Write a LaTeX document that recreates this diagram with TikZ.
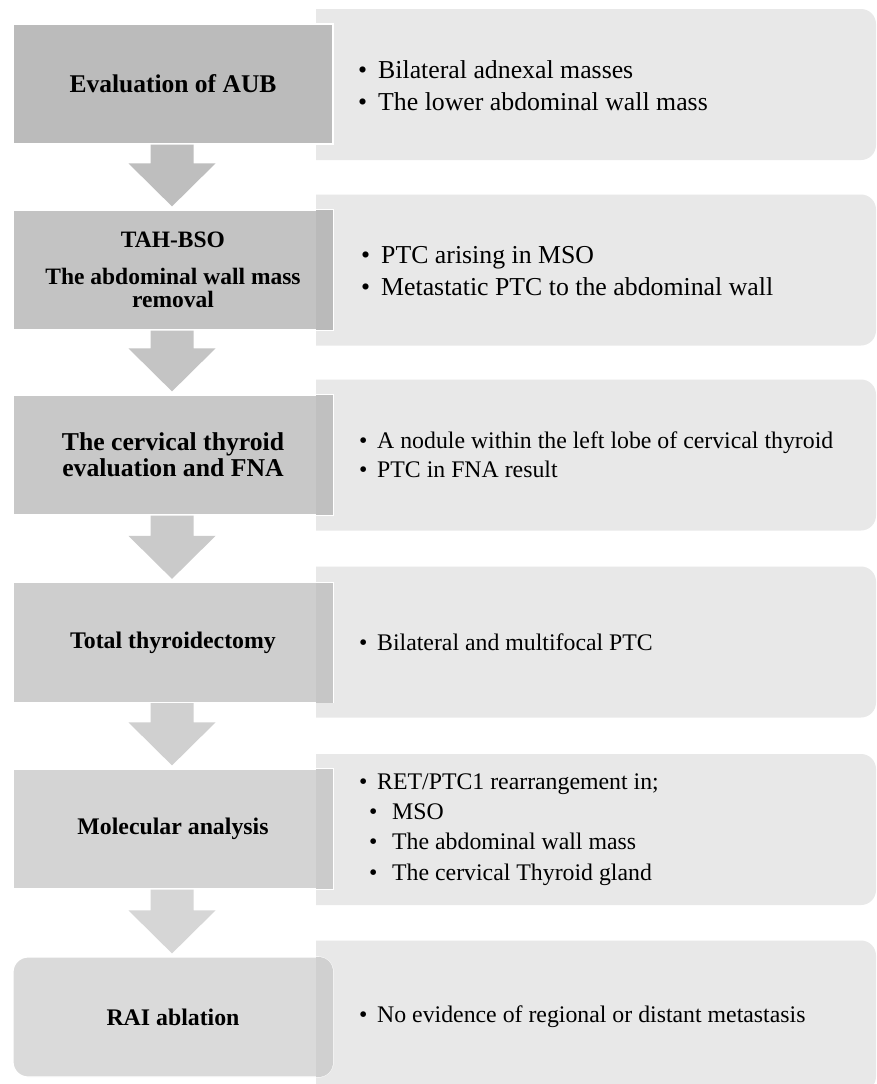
\documentclass[tikz,border=0pt]{standalone}
\usepackage{fontspec}
\setmainfont{Liberation Serif}
\usetikzlibrary{calc}
\definecolor{rf}{HTML}{E8E8E8}
\definecolor{cA}{HTML}{BBBBBB}
\definecolor{cB}{HTML}{C3C3C3}
\definecolor{cC}{HTML}{C8C8C8}
\definecolor{cD}{HTML}{CECECE}
\definecolor{cE}{HTML}{D4D4D4}
\definecolor{cF}{HTML}{DADADA}
\definecolor{sB}{HTML}{BABABA}
\definecolor{sC}{HTML}{C0C0C0}
\definecolor{sD}{HTML}{C6C6C6}
\definecolor{sE}{HTML}{CBCBCB}
\definecolor{sF}{HTML}{D0D0D0}
\definecolor{aA}{HTML}{BEBEBE}
\definecolor{aB}{HTML}{C4C4C4}
\definecolor{aC}{HTML}{CACACA}
\definecolor{aD}{HTML}{D0D0D0}
\definecolor{aE}{HTML}{D6D6D6}
\newcommand\bl[1]{\makebox[#1pt][l]{•}}
\newcommand\flowarrow[3]{%
  \fill[#3] ($(#1.south)+(-22.5,0)$) -- ($(#1.south)+(20.5,0)$)
    -- ($(#2.north)+(20.5,-46)$) -- ($(#2.north)+(42.5,-46)$)
    -- ($(#2.north)+(-1,-3)$) -- ($(#2.north)+(-44.5,-46)$)
    -- ($(#2.north)+(-22.5,-46)$) -- cycle;}
\newcommand\rightpanel[1]{%
  \begin{scope}
    \clip (#1.south west) rectangle (#1.north east);
    \fill[rf, rounded corners=15pt] ($(#1.south west)+(-40,0)$) rectangle (#1.north east);
  \end{scope}}
\tikzset{
  leftbox/.style={minimum width=320pt, minimum height=120pt, draw=white,
    line width=1.2pt, inner sep=0pt, align=center, text=black},
  rightbox/.style={minimum width=560pt, minimum height=151pt,
    inner sep=0pt, outer sep=0pt},
  rtext/.style={anchor=west, align=left, inner sep=0pt, text=black},
  bigr/.style={font=\fontsize{25.8}{31.5}\selectfont},
  smallr/.style={font=\fontsize{23.8}{29.5}\selectfont}
}
\begin{document}
\begin{tikzpicture}[x=1pt,y=-1pt]
\useasboundingbox (0,0) rectangle (877,1084);
\clip (0,0) rectangle (877,1084);
\fill[white] (0,0) rectangle (877,1084);

% right boxes
\node[rightbox] (b1) at (596,84.5) {};
\node[rightbox] (b2) at (596,270) {};
\node[rightbox] (b3) at (596,455) {};
\node[rightbox] (b4) at (596,642) {};
\node[rightbox] (b5) at (596,829.5) {};
\node[rightbox] (b6) at (596,1016) {};
\rightpanel{b1}
\rightpanel{b2}
\rightpanel{b3}
\rightpanel{b4}
\rightpanel{b5}
\rightpanel{b6}

% left boxes
\node[leftbox, fill=cA, font=\bfseries\fontsize{25.5}{30}\selectfont] (a1) at (173,84) {Evaluation of AUB};
\node[leftbox, fill=cB, font=\bfseries\fontsize{23.5}{23}\selectfont] (a2) at (173,270) {TAH-BSO\\[14pt]The abdominal wall mass\\removal};
\node[leftbox, fill=cC, font=\bfseries\fontsize{25.7}{26}\selectfont] (a3) at (173,455) {The cervical thyroid\\evaluation and FNA};
\node[leftbox, fill=cD, font=\bfseries\fontsize{23.8}{28}\selectfont] (a4) at (173,642.5) {Total thyroidectomy};
\node[leftbox, fill=cE, font=\bfseries\fontsize{23.8}{28}\selectfont] (a5) at (173,829) {Molecular analysis};
\node[leftbox, fill=cF, rounded corners=15pt, font=\bfseries\fontsize{23.8}{28}\selectfont] (a6) at (173,1017) {RAI ablation};

% overlap strips
\fill[sB] ($(b2.west |- a2.north)+(0,0.6)$) rectangle ($(a2.south east)+(-0.6,-0.6)$);
\fill[sC] ($(b3.west |- a3.north)+(0,0.6)$) rectangle ($(a3.south east)+(-0.6,-0.6)$);
\fill[sD] ($(b4.west |- a4.north)+(0,0.6)$) rectangle ($(a4.south east)+(-0.6,-0.6)$);
\fill[sE] ($(b5.west |- a5.north)+(0,0.6)$) rectangle ($(a5.south east)+(-0.6,-0.6)$);
\begin{scope}
  \clip[rounded corners=14.4pt] ($(a6.south west)+(0.6,-0.6)$) rectangle ($(a6.north east)+(-0.6,0.6)$);
  \fill[sF] (b6.west |- a6.north) rectangle (a6.south east);
\end{scope}

% arrows
\flowarrow{a1}{a2}{aA}
\flowarrow{a2}{a3}{aB}
\flowarrow{a3}{a4}{aC}
\flowarrow{a4}{a5}{aD}
\flowarrow{a5}{a6}{aE}

% right texts
\node[rtext, bigr] (t1) at (358,85.5) {\bl{20}Bilateral adnexal masses\\\bl{20}The lower abdominal wall mass};
\node[rtext, bigr] (t2) at (361,271) {\bl{20}PTC arising in MSO\\\bl{20}Metastatic PTC to the abdominal wall};
\node[rtext, smallr] (t3) at (359,454.5) {\bl{18}A nodule within the left lobe of cervical thyroid\\\bl{18}PTC in FNA result};
\node[rtext, smallr] (t4) at (359,642) {\bl{18}Bilateral and multifocal PTC};
\node[rtext, font=\fontsize{23.8}{30.3}\selectfont] (t5) at (359,829.5) {\bl{18}RET/PTC1 rearrangement in;\\\hspace{10pt}\bl{23}MSO\\\hspace{10pt}\bl{23}The abdominal wall mass\\\hspace{10pt}\bl{23}The cervical Thyroid gland};
\node[rtext, smallr] (t6) at (359,1017) {\bl{18}No evidence of regional or distant metastasis};
\end{tikzpicture}
\end{document}
